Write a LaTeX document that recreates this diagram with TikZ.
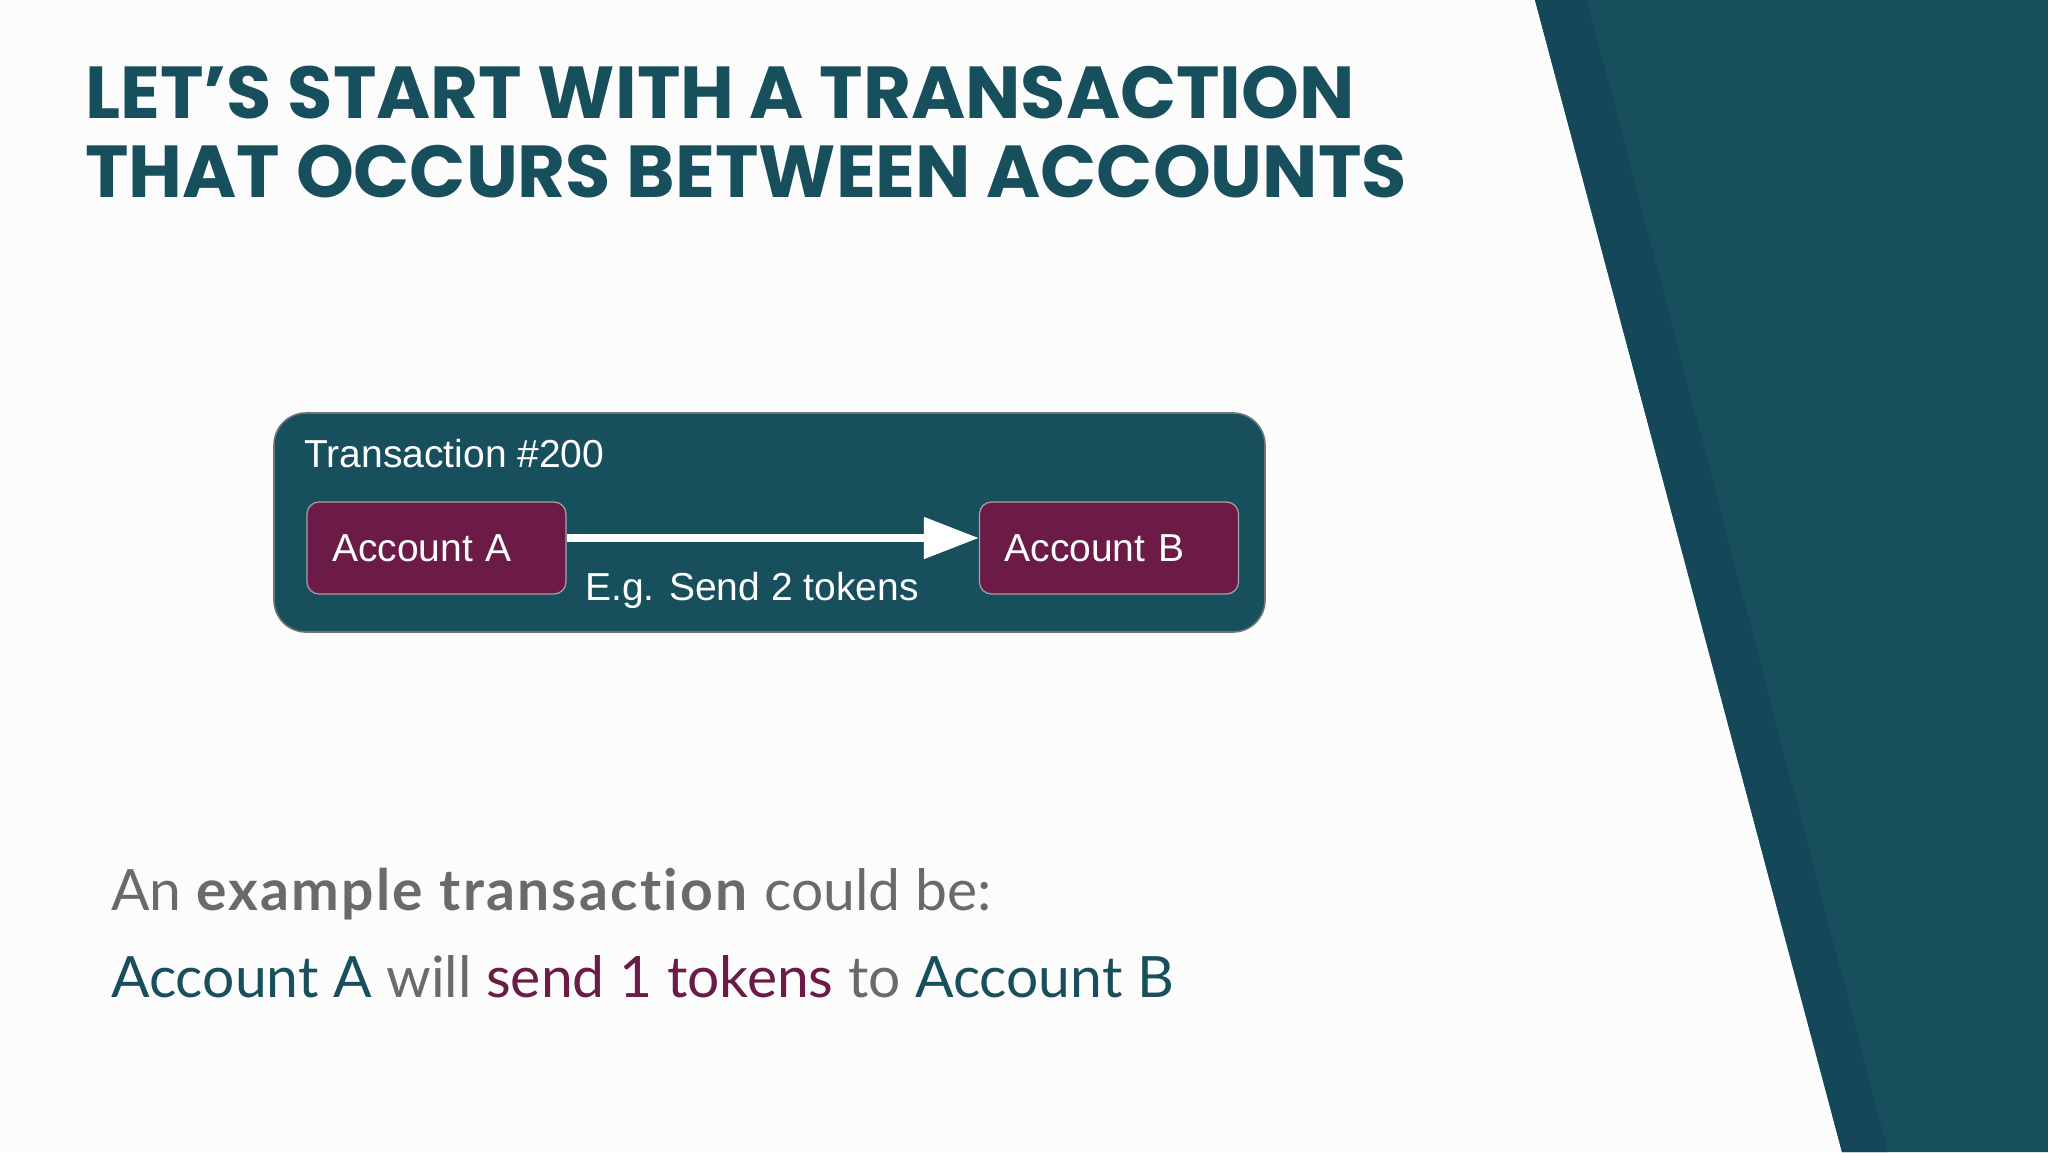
\documentclass[tikz,border=0pt]{standalone}
\usepackage{fontspec}
\usetikzlibrary{arrows.meta}
\setmainfont{Liberation Sans}
\newfontfamily\titlefont{Poppins}[UprightFont=* Bold]
\newfontfamily\bodyfont{Lato}[Ligatures=NoCommon, BoldFeatures={LetterSpace=4}]
\definecolor{teal}{HTML}{174F5C}
\definecolor{tealdark}{HTML}{144858}
\definecolor{wine}{HTML}{6B1B45}
\definecolor{greytext}{HTML}{6A6A6A}
\tikzset{
  acct/.style={draw=gray!70, line width=0.6pt, fill=wine, rounded corners=6pt,
    minimum height=46pt, text width=104.5pt, inner xsep=12.5pt, align=left,
    text=white, font=\fontsize{19.5}{22}\selectfont},
  plain/.style={anchor=base west, inner sep=0pt}
}
\begin{document}
\begin{tikzpicture}[x=0.5pt,y=-0.5pt]
\fill[white!98!gray] (0,0) rectangle (2048,1152);
\useasboundingbox (0,0) rectangle (2048,1152);
\fill[teal] (1535,0) -- (2048,0) -- (2048,1152) -- (1842,1152) -- cycle;
\fill[tealdark] (1535,0) -- (1587,0) -- (1888,1152) -- (1842,1152) -- cycle;
\node[plain, text=teal, font=\titlefont\fontsize{36.8}{40}\selectfont] (title1) at (85,118) {LET’S START WITH A TRANSACTION};
\node[plain, text=teal, font=\titlefont\fontsize{36.8}{40}\selectfont] (title2) at (85,197) {THAT OCCURS BETWEEN ACCOUNTS};
\node[draw=gray!80!teal, line width=0.8pt, fill=teal, rounded corners=16pt,
  minimum width=495.5pt, minimum height=109.5pt] (tx) at (769.5,522.5) {};
\node[plain, text=white, font=\fontsize{19.5}{22}\selectfont] (txlabel) at (304,467) {Transaction \#200};
\node[acct] (a) at (436.5,548) {Account A};
\node[acct] (b) at (1109,548) {Account B};
\draw[white, line width=4pt, -{Triangle[length=27.5pt,width=20pt]}] ([yshift=5pt]a.east) -- ([yshift=5pt]b.west);
\node[plain, text=white, font=\fontsize{19.5}{22}\selectfont] (send) at (585,600) {E.g. Send 2 tokens};
\node[plain, text=greytext, font=\bodyfont\fontsize{28.5}{30}\selectfont] (line1) at (111,910)
  {An \textbf{example transaction} could be:};
\node[plain, text=greytext, font=\bodyfont\fontsize{28.5}{30}\selectfont] (line2) at (111,997)
  {\textcolor{teal}{Account A} will \textcolor{wine}{send 1 tokens} to \textcolor{teal}{Account B}};
\end{tikzpicture}
\end{document}
